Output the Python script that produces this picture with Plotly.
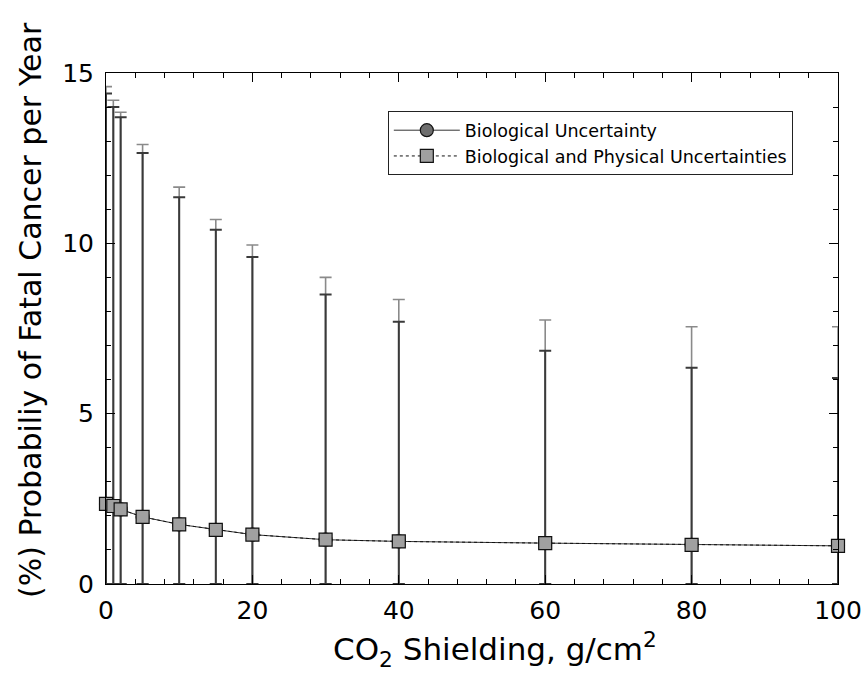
import plotly.graph_objects as go

shielding = [0, 1, 2, 5, 10, 15, 20, 30, 40, 60, 80, 100]
prob_mean = [2.35, 2.29, 2.19, 1.97, 1.75, 1.59, 1.45, 1.30, 1.25, 1.20, 1.15, 1.12]
upper_bio = [14.40, 14.00, 13.70, 12.65, 11.35, 10.40, 9.60, 8.50, 7.70, 6.85, 6.35, 6.05]
upper_bio_phys = [14.60, 14.20, 13.85, 12.90, 11.65, 10.70, 9.95, 9.00, 8.35, 7.75, 7.55, 7.55]

x_title = "CO<sub>2</sub> Shielding, g/cm<sup>2</sup>"
y_title = "(%) Probabiliy of Fatal Cancer per Year"

font_family = "DejaVu Sans, Arial, sans-serif"

plus_bio = [u - m for u, m in zip(upper_bio, prob_mean)]
plus_bp = [u - m for u, m in zip(upper_bio_phys, prob_mean)]

fig = go.Figure()

# Bio + physical error bars (lighter, drawn underneath)
fig.add_trace(go.Scatter(
    x=shielding, y=prob_mean, mode="markers", cliponaxis=False,
    marker=dict(size=2, color="rgba(0,0,0,0)"),
    error_y=dict(type="data", symmetric=False, array=plus_bp, arrayminus=prob_mean,
                 color="#8a8a8a", thickness=1.6, width=6),
    showlegend=False, hoverinfo="skip",
))

# Biological uncertainty
fig.add_trace(go.Scatter(
    x=shielding, y=prob_mean, mode="lines+markers", cliponaxis=False,
    name="Biological Uncertainty",
    line=dict(color="#333333", width=1),
    marker=dict(symbol="circle", size=13, color="#6e6e6e",
                line=dict(color="#111111", width=1.2)),
    error_y=dict(type="data", symmetric=False, array=plus_bio, arrayminus=prob_mean,
                 color="#3a3a3a", thickness=2, width=6),
    legendrank=1,
))

# Biological and physical uncertainties (markers on top)
fig.add_trace(go.Scatter(
    x=shielding, y=prob_mean, mode="lines+markers", cliponaxis=False,
    name="Biological and Physical Uncertainties",
    line=dict(color="#111111", width=1, dash="dot"),
    marker=dict(symbol="square", size=13, color="#a0a0a0",
                line=dict(color="#111111", width=1.2)),
    legendrank=2,
))

axis_common = dict(
    showgrid=False, zeroline=False, showline=True, linecolor="black", linewidth=1,
    mirror="allticks", ticks="inside", ticklen=9, tickwidth=1, tickcolor="black",
    tickfont=dict(size=25, family=font_family, color="black"),
    automargin=False,
)

fig.update_xaxes(
    range=[0, 100], tickvals=[0, 20, 40, 60, 80, 100],
    minor=dict(dtick=4, ticks="inside", ticklen=5, tickcolor="black", showgrid=False),
    ticklabelstandoff=4,
    **axis_common,
)
fig.update_yaxes(
    range=[0, 15], tickvals=[0, 5, 10, 15],
    minor=dict(dtick=1, ticks="inside", ticklen=5, tickcolor="black", showgrid=False),
    ticklabelstandoff=6,
    **axis_common,
)

fig.add_annotation(
    text=x_title, xref="paper", yref="paper", x=0.531, y=-0.128,
    xanchor="center", yanchor="middle", showarrow=False,
    font=dict(size=31, family=font_family, color="black"),
)
fig.add_annotation(
    text=y_title, xref="paper", yref="paper", x=-0.104, y=0.536,
    xanchor="center", yanchor="middle", textangle=-90, showarrow=False,
    font=dict(size=30, family=font_family, color="black"),
)

fig.update_layout(
    width=863, height=690,
    margin=dict(l=106, r=25, t=73, b=106),
    plot_bgcolor="white", paper_bgcolor="white",
    font=dict(family=font_family, color="black"),
    legend=dict(
        x=0.385, y=0.925, xanchor="left", yanchor="top",
        bordercolor="#222222", borderwidth=1, bgcolor="white",
        font=dict(size=17.5, family=font_family, color="black"),
        itemwidth=66, tracegroupgap=0,
    ),
)

fig.write_html("out.html")
